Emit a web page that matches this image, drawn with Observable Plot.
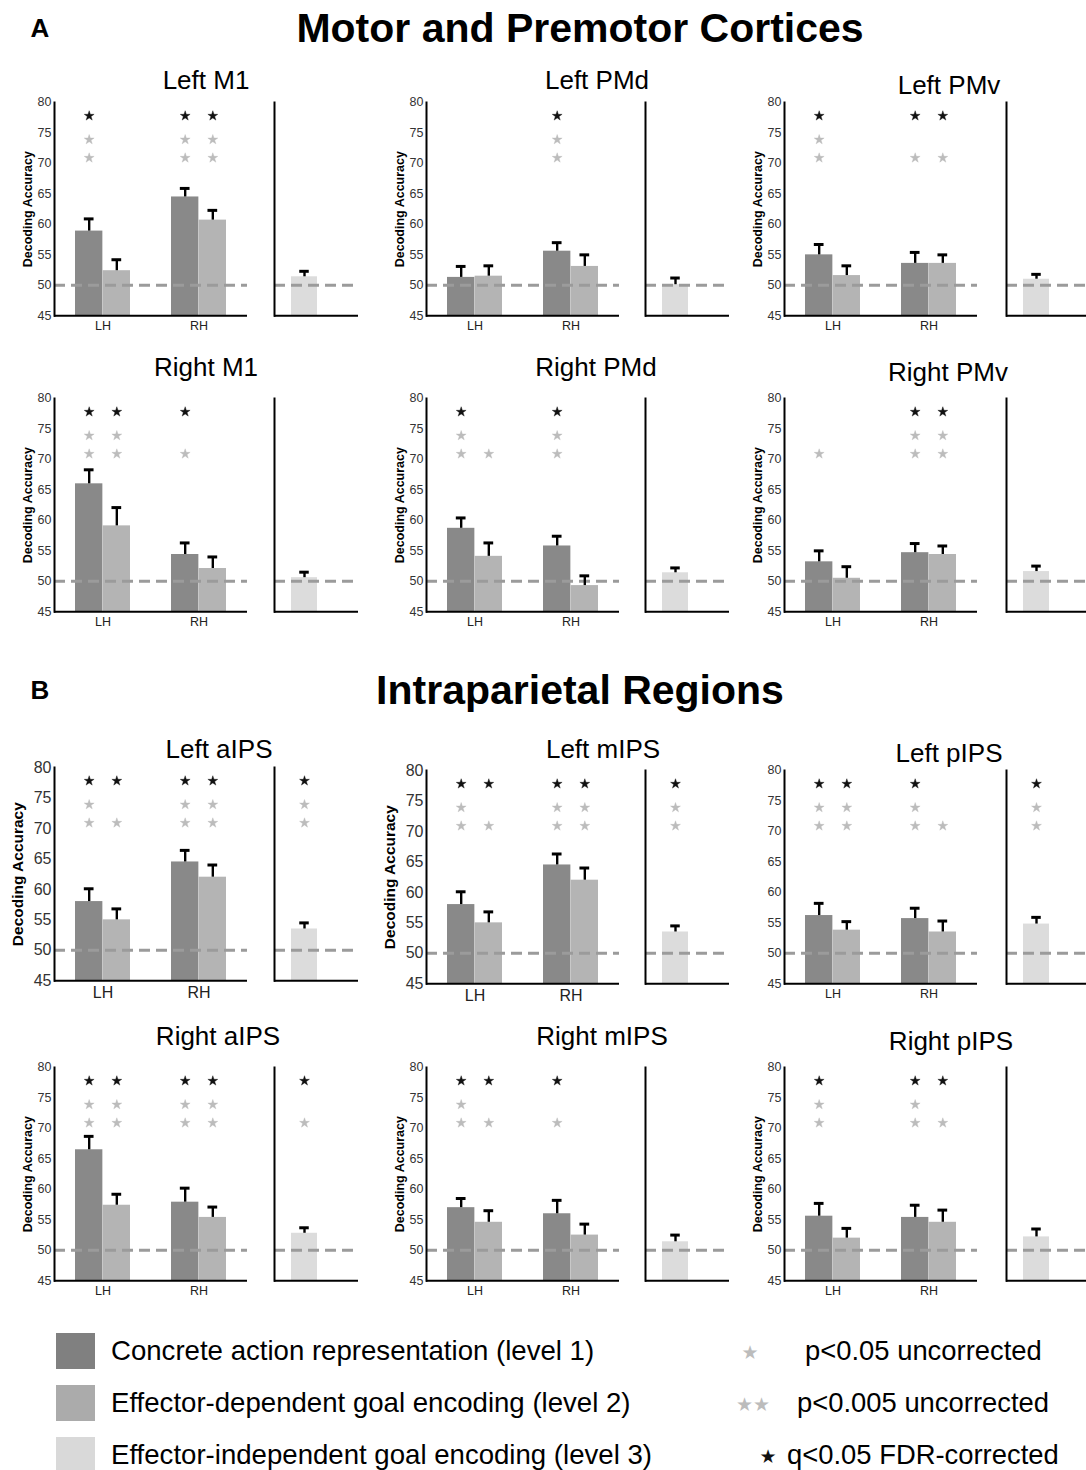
<!DOCTYPE html>
<html><head><meta charset="utf-8">
<script src="https://cdn.jsdelivr.net/npm/d3@7"></script>
<script src="https://cdn.jsdelivr.net/npm/@observablehq/plot@0.6"></script>
<style>
body{margin:0;background:#fff;font-family:"Liberation Sans",Arial,sans-serif;color:#000;}
#page{position:relative;width:1086px;height:1470px;overflow:hidden;background:#fff;}
#page svg{position:absolute;overflow:visible;}
</style></head><body><div id="page"></div>
<script>
// ---------------- DATA ----------------
const sectionTitles = ["Motor and Premotor Cortices", "Intraparietal Regions"];
const sectionLetters = ["A", "B"];
const regions = ["Left M1","Left PMd","Left PMv","Right M1","Right PMd","Right PMv",
                 "Left aIPS","Left mIPS","Left pIPS","Right aIPS","Right mIPS","Right pIPS"];
const hemispheres = ["LH","RH"];
const yTicks = [45,50,55,60,65,70,75,80];
const yLabel = "Decoding Accuracy";
const levelNames = ["Concrete action representation (level 1)",
                    "Effector-dependent goal encoding (level 2)",
                    "Effector-independent goal encoding (level 3)"];
const sigNames = ["p<0.05 uncorrected","p<0.005 uncorrected","q<0.05 FDR-corrected"];

// mean decoding accuracy (%)
const level1LH = [58.9, 51.3, 55.0, 66.0, 58.7, 53.2, 58.0, 58.0, 56.2, 66.5, 57.0, 55.6];
const level2LH = [52.4, 51.5, 51.6, 59.1, 54.1, 50.5, 55.0, 55.0, 53.8, 57.4, 54.6, 52.0];
const level1RH = [64.5, 55.6, 53.6, 54.4, 55.8, 54.7, 64.5, 64.5, 55.7, 57.9, 56.0, 55.4];
const level2RH = [60.7, 53.1, 53.6, 52.1, 49.3, 54.4, 62.0, 62.0, 53.5, 55.4, 52.5, 54.6];
const level3   = [51.4, 50.1, 51.0, 50.6, 51.4, 51.6, 53.5, 53.5, 54.8, 52.8, 51.4, 52.2];
// upper end of error bars (mean + SEM)
const upper1LH = [60.9, 53.1, 56.7, 68.3, 60.4, 55.0, 60.1, 60.1, 58.2, 68.7, 58.5, 57.7];
const upper2LH = [54.2, 53.2, 53.2, 62.1, 56.3, 52.4, 56.8, 56.8, 55.2, 59.2, 56.5, 53.6];
const upper1RH = [65.9, 57.0, 55.4, 56.3, 57.4, 56.2, 66.4, 66.3, 57.4, 60.2, 58.2, 57.4];
const upper2RH = [62.3, 55.0, 55.0, 54.0, 50.9, 55.8, 64.0, 64.0, 55.3, 57.1, 54.3, 56.6];
const upper3   = [52.3, 51.2, 51.8, 51.5, 52.2, 52.5, 54.5, 54.5, 55.9, 53.7, 52.5, 53.5];
// significance: q = FDR-corrected (black star), p = one gray star (p<0.05), pp = two gray stars (p<0.005)
const sig1LH = ["qpp","","qpp","qpp","qpp","p","qpp","qpp","qpp","qpp","qpp","qpp"];
const sig2LH = ["","","","qpp","p","","qp","qp","qpp","qpp","qp",""];
const sig1RH = ["qpp","qpp","qp","qp","qpp","qpp","qpp","qpp","qpp","qpp","qp","qpp"];
const sig2RH = ["qpp","","qp","","","qpp","qpp","qpp","p","qpp","","qp"];
const sig3   = ["","","","","","","qpp","qpp","qpp","qp","",""];
// star rows (in accuracy units)
const starRowFDR = 77.8, starRowP005 = 73.9, starRowP05 = 70.9;

// ---------------- STYLE / LAYOUT ----------------
const levelColors = ["#898989", "#b4b4b4", "#dcdcdc"];
const legendColors = ["#808080", "#ababab", "#d9d9d9"];
const grayStar = "#bcbcbc", blackStar = "#111";
const FONT = "'Liberation Sans', Arial, sans-serif";
const page = document.getElementById("page");

function addText(txt, x, y, css) {
  const d = document.createElement("div");
  d.textContent = txt;
  d.style.cssText = `position:absolute;left:${x}px;top:${y}px;transform:translate(-50%,-50%);white-space:nowrap;line-height:1;${css||""}`;
  page.appendChild(d);
  return d;
}

addText(sectionLetters[0], 40, 28, "font-size:26px;font-weight:bold;");
addText(sectionTitles[0], 580, 28, "font-size:41px;font-weight:bold;");
addText(sectionLetters[1], 40, 690, "font-size:26px;font-weight:bold;");
addText(sectionTitles[1], 580, 690, "font-size:41px;font-weight:bold;");

const axisXs = [54, 426, 784];
const miniXs = [274, 645, 1006];
const top80 = [[101.7,101.7,101.7],[397.7,397.7,397.7],[767,770,770],[1066.5,1066.5,1066.5]];
const titlePos = [[206,80],[597,80],[949,85],[206,367],[596,367],[948,372],
                  [219,749],[603,749],[949,753],[218,1036],[602,1036],[951,1041]];
const bigPanels = [6,7];
const noLabelPanels = [8];

const W = 193, H = 213.3, MT = 10, MB = 24, ML = 54, MR = 4;
const PI = 0.43, PO = 0.21;
const step = W / (2 - PI + 2*PO), bw = step*(1-PI), half = bw/2;
const W3 = 84, bw3 = 26.5, PO3 = (W3/bw3 - 1)/2, ALIGN3 = 17/(W3-bw3);
const cap = 10;
const starR = 3.1;

function starMarksFor(rows) {
  const out = [];
  for (const r of rows) {
    const s = r.sig;
    if (s.includes("q")) out.push({...r, sy: starRowFDR, c: blackStar});
    const n = (s.match(/p/g) || []).length;
    if (n >= 2) out.push({...r, sy: starRowP005, c: grayStar});
    if (n >= 1) out.push({...r, sy: starRowP05, c: grayStar});
  }
  return out;
}

regions.forEach((name, i) => {
  const row = Math.floor(i/3), col = i % 3;
  const big = bigPanels.includes(i);
  const fs = big ? 16 : 12.5;
  const y80 = top80[row][col];
  const [tx, ty] = titlePos[i];
  addText(name, tx, ty, "font-size:26px;");

  const l1 = [{hemi:"LH", mean:level1LH[i], up:upper1LH[i], sig:sig1LH[i]},
              {hemi:"RH", mean:level1RH[i], up:upper1RH[i], sig:sig1RH[i]}];
  const l2 = [{hemi:"LH", mean:level2LH[i], up:upper2LH[i], sig:sig2LH[i]},
              {hemi:"RH", mean:level2RH[i], up:upper2RH[i], sig:sig2RH[i]}];
  const s1 = starMarksFor(l1), s2 = starMarksFor(l2);

  const marks = [
    Plot.barY(l1, {x:"hemi", y1:45, y2:"mean", fill:levelColors[0], insetRight: half}),
    Plot.barY(l2, {x:"hemi", y1:45, y2:"mean", fill:levelColors[1], insetLeft: half}),
    Plot.ruleY([50], {stroke:"#9b9b9b", strokeWidth:3, strokeDasharray:"11,6"}),
    Plot.ruleX(l1, {x:"hemi", y1:"mean", y2:"up", dx:-half/2, stroke:"#000", strokeWidth:2.4}),
    Plot.ruleX(l2, {x:"hemi", y1:"mean", y2:"up", dx: half/2, stroke:"#000", strokeWidth:2.4}),
    Plot.tickY(l1, {x:"hemi", y:"up", insetLeft: half/2 - cap/2, insetRight: bw - half/2 - cap/2, stroke:"#000", strokeWidth:3}),
    Plot.tickY(l2, {x:"hemi", y:"up", insetLeft: half + half/2 - cap/2, insetRight: half/2 - cap/2, stroke:"#000", strokeWidth:3}),
    Plot.dot(s1, {x:"hemi", y:"sy", dx:-half/2, symbol:"star", r:starR, fill:"c", stroke:"c", strokeWidth:0.4}),
    Plot.dot(s2, {x:"hemi", y:"sy", dx: half/2, symbol:"star", r:starR, fill:"c", stroke:"c", strokeWidth:0.4}),
    Plot.frame({anchor:"left", stroke:"#000", strokeWidth:2}),
    Plot.ruleY([45], {stroke:"#000", strokeWidth:2}),
    Plot.axisY({ticks: yTicks, tickSize:0, tickPadding:3, fontSize:fs, color:"#333", label:null}),
    Plot.axisX({tickSize:0, tickPadding: big ? 6 : 5, fontSize:fs, color:"#222", label:null})
  ];
  if (!noLabelPanels.includes(i)) {
    marks.push(Plot.text([yLabel], {text:d=>d, frameAnchor:"left", textAnchor:"middle", lineAnchor:"middle",
      rotate:-90, dx: big ? -36 : -27, fontWeight:"bold", fontSize: big ? 15.5 : 12.5, fill:"#000"}));
  }
  const main = Plot.plot({
    width: ML + W + MR, height: MT + H + MB,
    marginLeft: ML, marginRight: MR, marginTop: MT, marginBottom: MB,
    x: {domain: hemispheres, paddingInner: PI, paddingOuter: PO},
    y: {domain: [45, 80]},
    style: {fontFamily: FONT, background: "transparent", overflow: "visible"},
    marks
  });
  main.style.left = (axisXs[col] - ML) + "px";
  main.style.top = (y80 - MT) + "px";
  page.appendChild(main);

  const l3 = [{lvl:"L3", mean:level3[i], up:upper3[i], sig:sig3[i]}];
  const s3 = starMarksFor(l3);
  const mini = Plot.plot({
    width: 2 + W3 + 4, height: MT + H + MB,
    marginLeft: 2, marginRight: 4, marginTop: MT, marginBottom: MB,
    x: {domain: ["L3"], paddingInner: 0, paddingOuter: PO3, align: ALIGN3, axis: null},
    y: {domain: [45, 80], axis: null},
    style: {fontFamily: FONT, background: "transparent", overflow: "visible"},
    marks: [
      Plot.barY(l3, {x:"lvl", y1:45, y2:"mean", fill:levelColors[2]}),
      Plot.ruleY([50], {stroke:"#9b9b9b", strokeWidth:3, strokeDasharray:"11,6"}),
      Plot.ruleX(l3, {x:"lvl", y1:"mean", y2:"up", stroke:"#000", strokeWidth:2.4}),
      Plot.tickY(l3, {x:"lvl", y:"up", insetLeft:(bw3-cap)/2, insetRight:(bw3-cap)/2, stroke:"#000", strokeWidth:3}),
      Plot.dot(s3, {x:"lvl", y:"sy", symbol:"star", r:starR, fill:"c", stroke:"c", strokeWidth:0.4}),
      Plot.frame({anchor:"left", stroke:"#000", strokeWidth:2}),
      Plot.ruleY([45], {stroke:"#000", strokeWidth:2})
    ]
  });
  mini.style.left = (miniXs[col] - 2) + "px";
  mini.style.top = (y80 - MT) + "px";
  page.appendChild(mini);
});

// ---------------- LEGEND ----------------
const legTops = [1333, 1385, 1437];
levelNames.forEach((t, k) => {
  const sw = document.createElement("div");
  sw.style.cssText = `position:absolute;left:56px;top:${legTops[k]}px;width:39px;height:36px;background:${legendColors[k]};`;
  page.appendChild(sw);
  const tx = document.createElement("div");
  tx.textContent = t;
  tx.style.cssText = `position:absolute;left:111px;top:${legTops[k]+18}px;transform:translateY(-50%);white-space:nowrap;font-size:27.6px;line-height:1;`;
  page.appendChild(tx);
});
const sigGlyphs = ["★", "★★", "★"];
const sigGlyphColors = [grayStar, grayStar, blackStar];
const sigGlyphX = [750, 753, 768];
const sigTextX = [805, 797, 787];
sigNames.forEach((t, k) => {
  addText(sigGlyphs[k], sigGlyphX[k], legTops[k]+19, `font-family:'DejaVu Sans';font-size:19px;color:${sigGlyphColors[k]};letter-spacing:0px;`);
  const tx = document.createElement("div");
  tx.textContent = t;
  tx.style.cssText = `position:absolute;left:${sigTextX[k]}px;top:${legTops[k]+18}px;transform:translateY(-50%);white-space:nowrap;font-size:27.4px;line-height:1;`;
  page.appendChild(tx);
});
</script></body></html>
